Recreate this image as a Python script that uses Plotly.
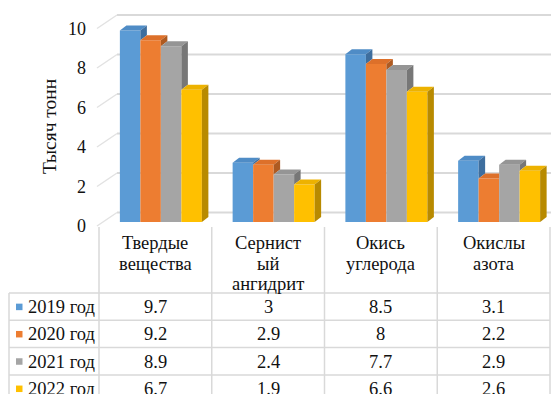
import plotly.graph_objects as go

# ---------------- data ----------------
categories = ["Твердые вещества", "Сернистый ангидрит", "Окись углерода", "Окислы азота"]
category_lines = [["Твердые", "вещества"], ["Сернист", "ый", "ангидрит"],
                  ["Окись", "углерода"], ["Окислы", "азота"]]
series_names = ["2019 год", "2020 год", "2021 год", "2022 год"]
v2019 = [9.7, 3, 8.5, 3.1]
v2020 = [9.2, 2.9, 8, 2.2]
v2021 = [8.9, 2.4, 7.7, 2.9]
v2022 = [6.7, 1.9, 6.6, 2.6]
y_ticks = [0, 2, 4, 6, 8, 10]
y_title = "Тысяч тонн"

series_values = [v2019, v2020, v2021, v2022]

# ---------------- style ----------------
front_colors = ["#5B9BD5", "#ED7D31", "#A5A5A5", "#FFC000"]
top_colors = ["#4F8CC6", "#DD702A", "#959595", "#EDB200"]
side_colors = ["#3E6E9E", "#AE5A21", "#777777", "#B88A00"]
FONT = "Liberation Serif"
FS = 18.5
FS_TICK = 18
FS_TITLE = 19.5
TXT = "#111111"
GRID = "#d9d9d9"

# page body has an 8px default margin -> figure placed at (8, 8)
SX, SY = 8, 8
W, H = 559 - SX, 394 - SY
PXU_X = 112.75     # pixels per category unit
PXU_Y = 19.75      # pixels per value unit
Y0_FRONT = 222     # screen row of value 0 (front plane)
Y0_BACK = 212.5    # screen row of value 0 (back wall)
Y_TOP = 10


def fx(px):
    return (px - SX) / W


def fy(py):
    return (H - (py - SY)) / H


bar_w = 20.5 / PXU_X
dx = 6.5 / PXU_X
dy = 5 / PXU_Y
xs = list(range(len(categories)))

fig = go.Figure()

# front faces
for i, vals in enumerate(series_values):
    fig.add_trace(go.Bar(
        x=xs, y=vals, width=bar_w, offset=-2 * bar_w + i * bar_w,
        marker=dict(color=front_colors[i], line=dict(width=0)),
        name=series_names[i], showlegend=False, hoverinfo="skip"))

# top and side faces (pseudo 3-D)
for j in xs:
    for i, vals in enumerate(series_values):
        v = vals[j]
        vn = series_values[i + 1][j] if i + 1 < len(series_values) else 0
        xl = j - 2 * bar_w + i * bar_w
        xr = xl + bar_w
        c = max(v, min(vn, v + dy))
        tx = [xl, xr, xr, xr + (c - v) / dy * dx, xr + dx, xl + dx, xl]
        ty = [v, v, c, c, v + dy, v + dy, v]
        fig.add_trace(go.Scatter(
            x=tx, y=ty, fill="toself", fillcolor=top_colors[i], mode="lines",
            line=dict(width=0), showlegend=False, hoverinfo="skip"))
        if v > vn:
            sx = [xr, xr, xr + dx, xr + dx, xr]
            sy = [vn, v, v + dy, vn + dy, vn]
            fig.add_trace(go.Scatter(
                x=sx, y=sy, fill="toself", fillcolor=side_colors[i], mode="lines",
                line=dict(width=0), showlegend=False, hoverinfo="skip"))

# ---------------- shapes: back wall grid, side wall, table grid ----------------
shapes = []
for t in y_ticks:
    shapes.append(dict(type="line", xref="paper", yref="paper", layer="below",
                       x0=fx(117), x1=fx(562),
                       y0=fy(Y0_BACK - t * PXU_Y), y1=fy(Y0_BACK - t * PXU_Y),
                       line=dict(color=GRID, width=2)))
    shapes.append(dict(type="line", xref="paper", yref="paper", layer="below",
                       x0=fx(97), y0=fy(Y0_FRONT + 4 - t * PXU_Y),
                       x1=fx(117), y1=fy(Y0_BACK - t * PXU_Y),
                       line=dict(color="#e2e2e2", width=1.5)))

col_edges = [99 + k * PXU_X for k in range(5)]
for xe in col_edges:
    shapes.append(dict(type="line", xref="paper", yref="paper",
                       x0=fx(xe), x1=fx(xe), y0=fy(227), y1=fy(400),
                       line=dict(color=GRID, width=1.5)))
shapes.append(dict(type="line", xref="paper", yref="paper",
                   x0=fx(9), x1=fx(9), y0=fy(293), y1=fy(400),
                   line=dict(color=GRID, width=1.5)))
row_h = 27.3
row_tops = [293 + k * row_h for k in range(4)]
for yt in row_tops:
    shapes.append(dict(type="line", xref="paper", yref="paper",
                       x0=fx(9), x1=fx(col_edges[-1]), y0=fy(yt), y1=fy(yt),
                       line=dict(color=GRID, width=1.5)))

annotations = []
# category header text
for j, lines in enumerate(category_lines):
    cx = col_edges[j] + PXU_X / 2
    for k, ln in enumerate(lines):
        annotations.append(dict(text=ln, xref="paper", yref="paper",
                                x=fx(cx), y=fy(243 + k * 20.5),
                                xanchor="center", yanchor="middle", showarrow=False,
                                font=dict(family=FONT, size=FS, color=TXT)))
# rows
for i, name in enumerate(series_names):
    cy = row_tops[i] + row_h / 2 + 0.5
    shapes.append(dict(type="rect", xref="paper", yref="paper",
                       x0=fx(16), x1=fx(22.5), y0=fy(cy - 3.5), y1=fy(cy + 3),
                       fillcolor=front_colors[i], line=dict(width=0)))
    annotations.append(dict(text=name, xref="paper", yref="paper",
                            x=fx(26), y=fy(cy), xanchor="left", yanchor="middle",
                            showarrow=False,
                            font=dict(family=FONT, size=FS, color=TXT)))
    for j in xs:
        annotations.append(dict(text=f"{series_values[i][j]:g}", xref="paper", yref="paper",
                                x=fx(col_edges[j] + PXU_X / 2), y=fy(cy),
                                xanchor="center", yanchor="middle", showarrow=False,
                                font=dict(family=FONT, size=FS, color=TXT)))
# y title
annotations.append(dict(text=y_title, xref="paper", yref="paper",
                        x=fx(49), y=fy(127), textangle=-90,
                        xanchor="center", yanchor="middle", showarrow=False,
                        font=dict(family=FONT, size=FS_TITLE, color=TXT)))

y_dom = [fy(Y0_FRONT), fy(Y_TOP)]
span = (Y0_FRONT - Y_TOP)

fig.update_layout(
    width=W, height=H,
    margin=dict(l=0, r=0, t=0, b=0, autoexpand=False),
    paper_bgcolor="white", plot_bgcolor="rgba(0,0,0,0)",
    font=dict(family=FONT, size=FS, color=TXT),
    barmode="overlay", showlegend=False,
    xaxis=dict(domain=[fx(104.5), fx(104.5 + 4 * PXU_X)], range=[-0.5, 3.5],
               showgrid=False, zeroline=False, showticklabels=False, showline=False),
    yaxis=dict(domain=y_dom, range=[0, span / PXU_Y], anchor="free", position=fx(86),
               tickvals=y_ticks, ticks="", showgrid=False, zeroline=False, showline=False,
               ticklabelshift=4,
               tickfont=dict(family=FONT, size=FS_TICK, color=TXT)),
    shapes=shapes, annotations=annotations,
)

fig.write_html("out.html")
